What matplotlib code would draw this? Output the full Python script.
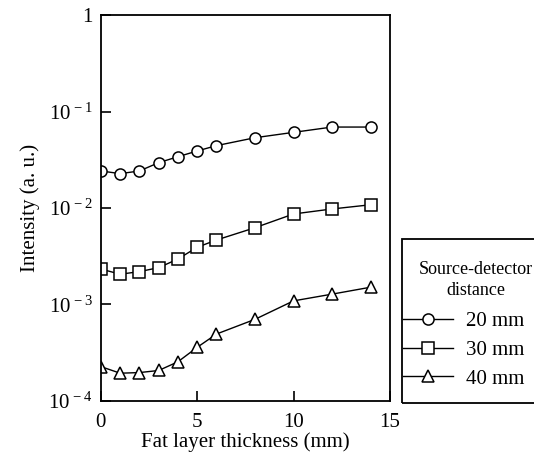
import numpy as np
import matplotlib
matplotlib.use('Agg')
import matplotlib.pyplot as plt
from matplotlib.patches import Rectangle

plt.rcParams['font.family'] = ['Liberation Serif', 'DejaVu Serif']
plt.rcParams['mathtext.fontset'] = 'custom'
plt.rcParams['mathtext.rm'] = 'Liberation Serif'
plt.rcParams['mathtext.it'] = 'Liberation Serif:italic'
plt.rcParams['mathtext.bf'] = 'Liberation Serif:bold'

# fat layer thickness (mm)
thickness = [0, 1, 2, 3, 4, 5, 6, 8, 10, 12, 14]

# intensity for each source-detector distance
i_20mm = [0.0242, 0.0227, 0.0242, 0.0295, 0.0340, 0.0390, 0.0443, 0.0535, 0.0608, 0.0690, 0.0690]
i_30mm = [0.00233, 0.00206, 0.00219, 0.00241, 0.00296, 0.00392, 0.00466, 0.00625, 0.00867, 0.00977, 0.0108]
i_40mm = [0.000227, 0.000194, 0.000197, 0.000207, 0.000255, 0.00036, 0.000494, 0.000702, 0.00109, 0.00128, 0.00151]

series_labels = ['20 mm', '30 mm', '40 mm']
y_ticks = [1e-4, 1e-3, 1e-2, 1e-1, 1]
y_tick_labels = [r'$10^{\,-4}$', r'$10^{\,-3}$', r'$10^{\,-2}$', r'$10^{\,-1}$', '1']
x_ticks = [0, 5, 10, 15]

W, H = 534, 459
fig = plt.figure(figsize=(W / 100, H / 100), dpi=100)
ax = fig.add_axes([0.189, 0.1264, 0.541, 0.8409])

style = dict(color='black', lw=1.0, markerfacecolor='white', markeredgecolor='black', markeredgewidth=1.1)
ax.plot(thickness, i_20mm, marker='o', ms=8, label=series_labels[0], **style)
ax.plot(thickness, i_30mm, marker='s', ms=8, label=series_labels[1], **style)
ax.plot(thickness, i_40mm, marker='^', ms=9, label=series_labels[2], **style)

ax.set_yscale('log')
ax.set_ylim(1e-4, 1)
ax.set_xlim(0, 15)
ax.set_yticks(y_ticks)
ax.set_yticklabels(y_tick_labels)
ax.minorticks_off()
ax.set_xticks(x_ticks)
ax.tick_params(direction='in', length=7, width=1.2, labelsize=15)
ax.tick_params(axis='x', pad=9)
ax.tick_params(axis='y', pad=6)
for sp in ax.spines.values():
    sp.set_linewidth(1.3)

ax.set_xlabel('Fat layer thickness (mm)', fontsize=15, labelpad=0)
ax.set_ylabel('Intensity (a. u.)', fontsize=15, labelpad=6)

# legend box runs off the right edge of the figure
fig.add_artist(Rectangle((402 / W, 1 - 403 / H), (570 - 402) / W, (403 - 239) / H,
                         transform=fig.transFigure, fill=False, lw=1.3, ec='black'))
fig.text(476 / W, 1 - 280 / H, 'Source-detector\ndistance', ha='center', va='center',
         fontsize=13, linespacing=1.3)
leg = ax.legend(loc='center left', bbox_to_anchor=(403 / W, 1 - 350 / H),
                bbox_transform=fig.transFigure, fontsize=15, frameon=False,
                borderpad=0, borderaxespad=0, handlelength=2.4, handletextpad=0.6,
                labelspacing=0.45)

fig.savefig('out.png', dpi=100)
